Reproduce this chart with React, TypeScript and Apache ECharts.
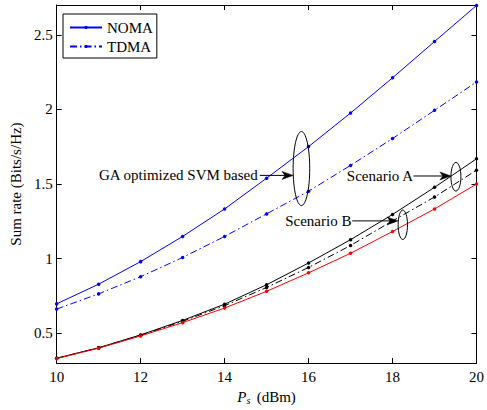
import React, { useEffect, useRef } from "react";
import * as echarts from "echarts";

const xValues = [10, 11, 12, 13, 14, 15, 16, 17, 18, 19, 20];
const nomaValues = [0.697, 0.829, 0.98, 1.149, 1.333, 1.539, 1.751, 1.976, 2.212, 2.455, 2.697];
const tdmaValues = [0.662, 0.764, 0.879, 1.008, 1.149, 1.3, 1.452, 1.625, 1.805, 1.994, 2.184];
const blackSolidValues = [0.333, 0.403, 0.489, 0.586, 0.695, 0.825, 0.971, 1.127, 1.296, 1.478, 1.669];
const blackDashValues = [0.332, 0.402, 0.487, 0.58, 0.685, 0.807, 0.941, 1.088, 1.253, 1.413, 1.593];
const redValues = [0.33, 0.4, 0.482, 0.571, 0.669, 0.781, 0.905, 1.036, 1.182, 1.333, 1.5];
const yTickValues = [0.5, 1, 1.5, 2, 2.5];

// annotations in data coordinates
const annotations = [
  { text: "GA optimized SVM based", textX: 14.79, arrowFrom: 14.84, arrowTo: 15.63, y: 1.558, ellX: 15.83, ellY: 1.604, rx: 8.3, ry: 37 },
  { text: "Scenario A", textX: 18.49, arrowFrom: 18.5, arrowTo: 19.39, y: 1.554, ellX: 19.51, ellY: 1.549, rx: 5, ry: 14.3 },
  { text: "Scenario B", textX: 17.02, arrowFrom: 17.04, arrowTo: 18.13, y: 1.253, ellX: 18.245, ellY: 1.227, rx: 4.7, ry: 14.7 },
];

const FONT = '"Liberation Serif", "Times New Roman", serif';

const pairs = (ys: number[]) => xValues.map((x, i) => [x, ys[i]]);

export default function App() {
  const ref = useRef<HTMLDivElement>(null);
  useEffect(() => {
    document.body.style.margin = "0";
    const chart = echarts.init(ref.current!, undefined, { renderer: "svg" });
    const axisLine = { show: true, lineStyle: { color: "#000", width: 1 } };
    const mkSeries = (name: string, data: number[], color: string, dashed: boolean) => ({
      name,
      type: "line",
      data: pairs(data),
      symbol: "circle",
      symbolSize: 3.5,
      showSymbol: true,
      itemStyle: { color },
      lineStyle: { color, width: 1, type: dashed ? [7, 3, 1.5, 3] : "solid" },
      z: 3,
    });
    chart.setOption({
      animation: false,
      backgroundColor: "#fff",
      grid: { left: 56, right: 9, top: 5, bottom: 36, containLabel: false },
      legend: {
        data: ["NOMA", "TDMA"],
        left: 63,
        top: 14,
        orient: "vertical",
        borderColor: "#000",
        borderWidth: 1,
        backgroundColor: "#fff",
        padding: [5, 4, 3, 6],
        itemGap: 2,
        itemWidth: 32,
        itemHeight: 4,
        textStyle: { fontSize: 15, fontFamily: FONT, color: "#000", lineHeight: 17 },
      },
      xAxis: [
        {
          type: "value",
          min: 10,
          max: 20,
          interval: 2,
          position: "bottom",
          axisLine,
          axisTick: { show: true, inside: true, length: 5, lineStyle: { color: "#000" } },
          axisLabel: { color: "#000", fontSize: 15, fontFamily: FONT, margin: 6 },
          splitLine: { show: false },
          name: "{i|P}{s|s} {n|(dBm)}",
          nameLocation: "middle",
          nameGap: 19,
          nameTextStyle: {
            rich: {
              i: { fontStyle: "italic", fontSize: 15, fontFamily: FONT, color: "#000" },
              s: { fontStyle: "italic", fontSize: 10, fontFamily: FONT, color: "#000", verticalAlign: "bottom", padding: [7, 0, 0, 0] },
              n: { fontSize: 15, fontFamily: FONT, color: "#000", padding: [0, 0, 0, 3] },
            },
          },
        },
        {
          type: "value",
          min: 10,
          max: 20,
          interval: 2,
          position: "top",
          axisLine,
          axisTick: { show: true, inside: true, length: 5, lineStyle: { color: "#000" } },
          axisLabel: { show: false },
          splitLine: { show: false },
        },
      ],
      yAxis: [
        {
          type: "value",
          min: 0.3,
          max: 2.7,
          position: "left",
          axisLine,
          axisTick: { show: true, inside: true, length: 5, customValues: yTickValues, lineStyle: { color: "#000" } },
          axisLabel: { color: "#000", fontSize: 15, fontFamily: FONT, margin: 4, customValues: yTickValues },
          splitLine: { show: false },
          name: "Sum rate (Bits/s/Hz)",
          nameLocation: "middle",
          nameGap: 30,
          nameTextStyle: { fontSize: 15, fontFamily: FONT, color: "#000" },
        },
        {
          type: "value",
          min: 0.3,
          max: 2.7,
          position: "right",
          axisLine,
          axisTick: { show: true, inside: true, length: 5, customValues: yTickValues, lineStyle: { color: "#000" } },
          axisLabel: { show: false, customValues: yTickValues },
          splitLine: { show: false },
        },
      ],
      series: [
        mkSeries("NOMA", nomaValues, "#0000ff", false),
        mkSeries("TDMA", tdmaValues, "#0000ff", true),
        mkSeries("Scenario A NOMA", blackSolidValues, "#000000", false),
        mkSeries("Scenario A TDMA", blackDashValues, "#000000", true),
        mkSeries("Scenario B", redValues, "#ff0000", false),
      ],
    });

    const px = (x: number, y: number) => chart.convertToPixel({ xAxisIndex: 0, yAxisIndex: 0 }, [x, y]) as number[];
    const elements: any[] = [];
    annotations.forEach((a) => {
      const t = px(a.textX, a.y);
      const f = px(a.arrowFrom, a.y);
      const e = px(a.arrowTo, a.y);
      const c = px(a.ellX, a.ellY);
      elements.push({
        type: "text",
        x: t[0],
        y: t[1],
        style: { text: a.text, fill: "#000", font: `15px ${FONT}`, align: "right", verticalAlign: "middle", textAlign: "right", textVerticalAlign: "middle" },
        z: 10,
      });
      elements.push({
        type: "line",
        shape: { x1: f[0], y1: f[1], x2: e[0] - 6, y2: e[1] },
        style: { stroke: "#000", lineWidth: 1 },
        z: 10,
      });
      elements.push({
        type: "polygon",
        shape: { points: [[e[0], e[1]], [e[0] - 11, e[1] - 4], [e[0] - 8, e[1]], [e[0] - 11, e[1] + 4]] },
        style: { fill: "#000", stroke: "#000", lineWidth: 0.5 },
        z: 10,
      });
      elements.push({
        type: "ellipse",
        shape: { cx: c[0], cy: c[1], rx: a.rx, ry: a.ry },
        style: { fill: "none", stroke: "#000", lineWidth: 1 },
        z: 10,
      });
    });
    chart.setOption({ graphic: { elements } });
    return () => chart.dispose();
  }, []);
  return <div ref={ref} style={{ width: 487, height: 410 }} />;
}
